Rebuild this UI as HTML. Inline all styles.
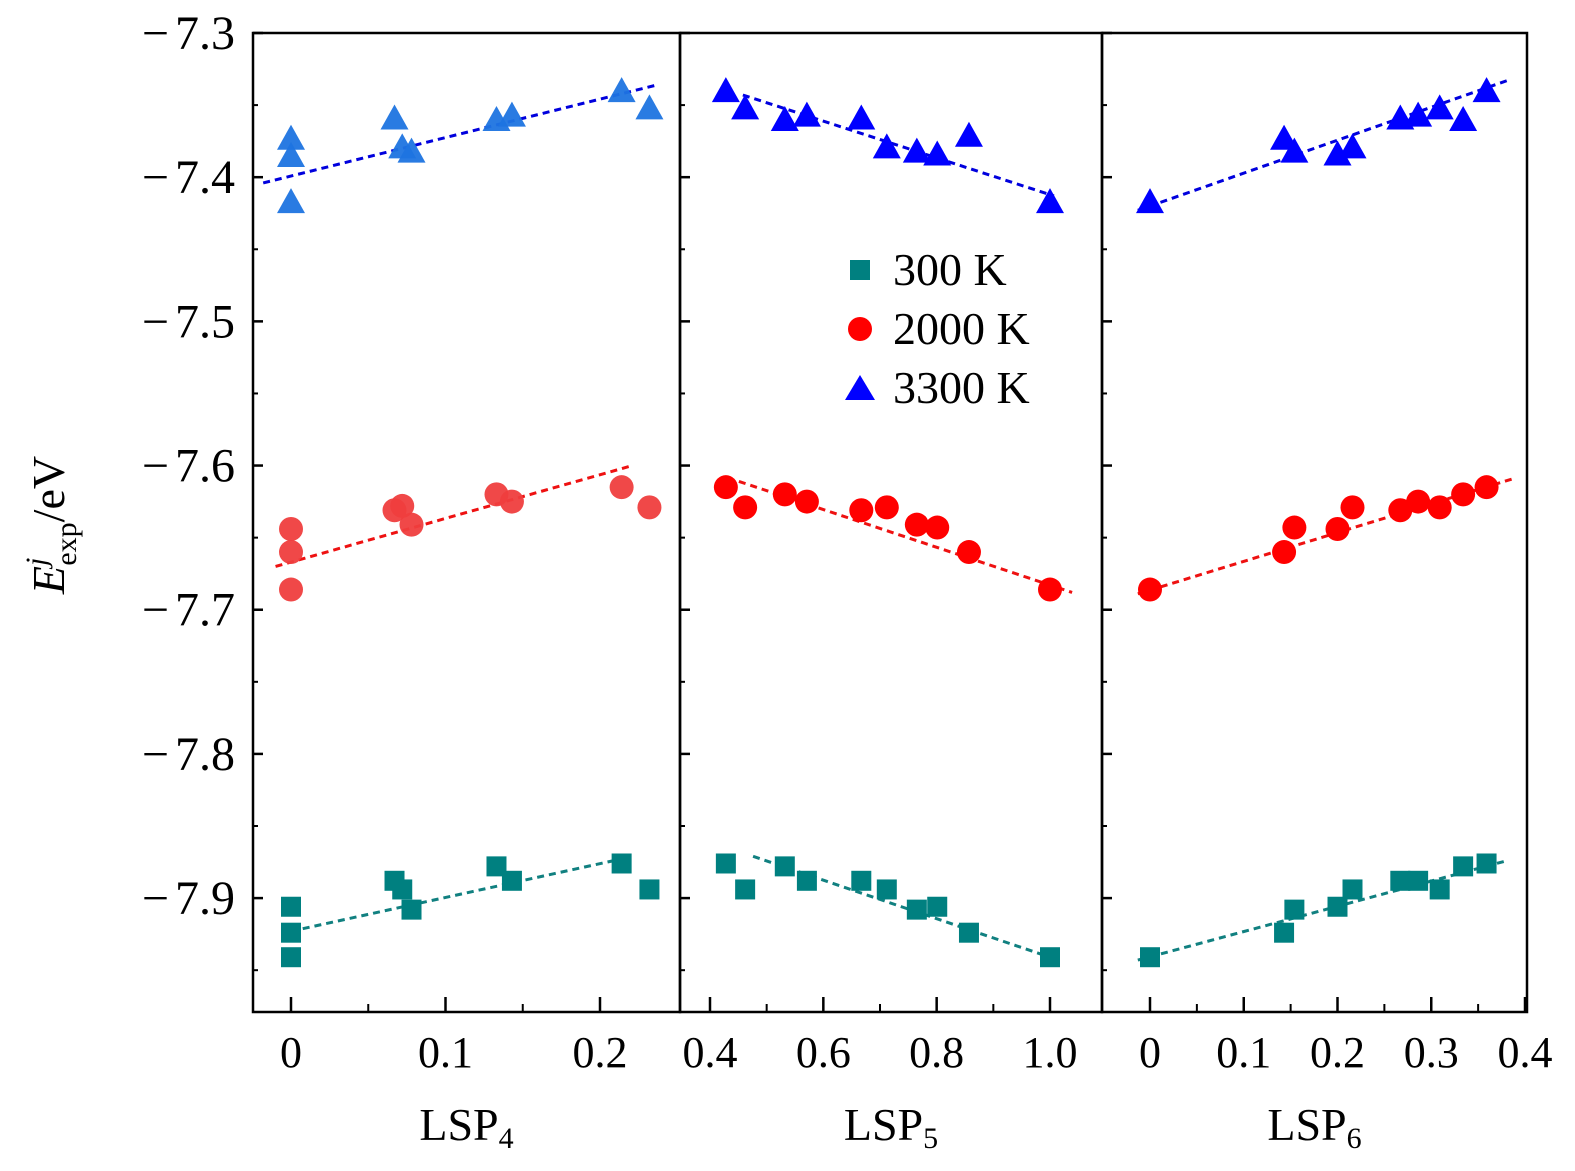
<!DOCTYPE html>
<html><head><meta charset="utf-8"><style>
html,body{margin:0;padding:0;background:#fff;overflow:hidden;width:1575px;height:1171px}
svg{display:block;font-family:"Liberation Serif",serif}
</style></head><body>
<svg id="chart" width="1575" height="1171" viewBox="0 0 1575 1171" xmlns="http://www.w3.org/2000/svg">
<g id="marks"></g>
<g id="axes"></g>
<g font-size="46">
<rect x="850" y="260" width="20" height="20" fill="#008080"/>
<text x="893" y="285">300 K</text>
<circle cx="860" cy="329" r="12" fill="#ff0000"/>
<text x="893" y="344">2000 K</text>
<polygon points="860,375 875,400 845,400" fill="#0000ff"/>
<text x="893" y="403">3300 K</text>
</g>
<text transform="translate(64,525) rotate(-90)" text-anchor="middle" font-size="46"><tspan font-style="italic">E</tspan><tspan font-style="italic" font-size="30" dy="-18">j</tspan><tspan font-size="30" dy="30" dx="-8">exp</tspan><tspan dy="-12">/eV</tspan></text>
</svg>
<script>
const yTicks=[-7.3,-7.4,-7.5,-7.6,-7.7,-7.8,-7.9];
const yTickLabels=["7.3","7.4","7.5","7.6","7.7","7.8","7.9"];
const p1X=[0,0,0,0.067,0.072,0.078,0.133,0.143,0.214,0.232];
const p1Blue=[-7.374,-7.386,-7.418,-7.360,-7.380,-7.383,-7.361,-7.358,-7.341,-7.353];
const p1Red=[-7.644,-7.660,-7.686,-7.631,-7.628,-7.641,-7.620,-7.625,-7.615,-7.629];
const p1Teal=[-7.906,-7.924,-7.941,-7.888,-7.894,-7.908,-7.878,-7.888,-7.876,-7.894];
const p2X=[0.428,0.462,0.532,0.571,0.667,0.712,0.765,0.801,0.857,1.0];
const p2Blue=[-7.341,-7.353,-7.361,-7.358,-7.360,-7.380,-7.383,-7.385,-7.372,-7.418];
const p2Red=[-7.615,-7.629,-7.620,-7.625,-7.631,-7.629,-7.641,-7.643,-7.660,-7.686];
const p2Teal=[-7.876,-7.894,-7.878,-7.888,-7.888,-7.894,-7.908,-7.906,-7.924,-7.941];
const p3X=[0,0.143,0.154,0.2,0.216,0.267,0.286,0.309,0.334,0.359];
const p3Blue=[-7.418,-7.374,-7.383,-7.385,-7.380,-7.360,-7.358,-7.353,-7.361,-7.341];
const p3Red=[-7.686,-7.660,-7.643,-7.644,-7.629,-7.631,-7.625,-7.629,-7.620,-7.615];
const p3Teal=[-7.941,-7.924,-7.908,-7.906,-7.894,-7.888,-7.888,-7.894,-7.878,-7.876];
const p1Fits=[[-0.018,-7.404,0.237,-7.336],[-0.010,-7.670,0.221,-7.600],[0,-7.923,0.209,-7.874]];
const p2Fits=[[0.458,-7.343,1.007,-7.413],[0.451,-7.611,1.039,-7.688],[0.476,-7.871,1.0,-7.941]];
const p3Fits=[[-0.013,-7.423,0.381,-7.333],[-0.013,-7.689,0.388,-7.609],[-0.013,-7.943,0.381,-7.874]];
const p1Ticks=[0,0.1,0.2];const p1TickLabels=["0","0.1","0.2"];const p1Minor=[0.05,0.15];
const p2Ticks=[0.4,0.6,0.8,1.0];const p2TickLabels=["0.4","0.6","0.8","1.0"];const p2Minor=[0.5,0.7,0.9];
const p3Ticks=[0,0.1,0.2,0.3,0.4];const p3TickLabels=["0","0.1","0.2","0.3","0.4"];const p3Minor=[0.05,0.15,0.25,0.35];

const NS="http://www.w3.org/2000/svg";
const marks=document.getElementById('marks'),axes=document.getElementById('axes');
const top_=33,bot=1012,yMax=-7.3,yMin=-7.979;
function Y(v){return top_+(yMax-v)/(yMax-yMin)*(bot-top_);}
function mk(tag,at,parent){const e=document.createElementNS(NS,tag);for(const k in at)e.setAttribute(k,at[k]);parent.appendChild(e);return e;}
const panels=[
 {x0:253,x1:680,xa:291,xb:600,va:0,vb:0.2,X:p1X,B:p1Blue,R:p1Red,T:p1Teal,F:p1Fits,tk:p1Ticks,tl:p1TickLabels,mn:p1Minor,lab:"4",cB:"#1e74e0",cR:"#ef3e3e",op:0.95},
 {x0:680,x1:1102,xa:710,xb:1050,va:0.4,vb:1.0,X:p2X,B:p2Blue,R:p2Red,T:p2Teal,F:p2Fits,tk:p2Ticks,tl:p2TickLabels,mn:p2Minor,lab:"5",cB:"#0000ff",cR:"#ff0000",op:1},
 {x0:1102,x1:1527,xa:1150,xb:1525,va:0,vb:0.4,X:p3X,B:p3Blue,R:p3Red,T:p3Teal,F:p3Fits,tk:p3Ticks,tl:p3TickLabels,mn:p3Minor,lab:"6",cB:"#0000ff",cR:"#ff0000",op:1}
];
panels.forEach((p,i)=>{
 const X=v=>p.xa+(v-p.va)/(p.vb-p.va)*(p.xb-p.xa);
 const g=mk('g',{},marks);
 
 
 const fitCols=['#0000dd','#ee1111','#118080'];
 p.F.forEach((f,j)=>{
  const l=mk('line',{x1:X(f[0]),y1:Y(f[1]),x2:X(f[2]),y2:Y(f[3]),stroke:fitCols[j],'stroke-width':3,'stroke-dasharray':'7,5'},g);
  
  
 });
 p.X.forEach((xv,k)=>{
  const cx=X(xv);
  let t=Y(p.T[k]);
  const s=mk('rect',{x:cx-10,y:t-10,width:20,height:20,fill:'#008080'},g);
  
  
  let r=Y(p.R[k]);
  const c=mk('circle',{cx:cx,cy:r,r:12,fill:p.cR,'fill-opacity':p.op},g);
  
  
  let b=Y(p.B[k]);
  const tr=mk('polygon',{points:`${cx},${b-15} ${cx+14},${b+10} ${cx-14},${b+10}`,fill:p.cB,'fill-opacity':p.op},g);
  
  
 });
 const fr=mk('rect',{x:p.x0,y:top_,width:p.x1-p.x0,height:bot-top_,fill:'none',stroke:'#000','stroke-width':2.5},axes);
 
 
 yTicks.forEach((v,k)=>{
  const t=mk('line',{x1:p.x0,x2:p.x0+10,y1:Y(v),y2:Y(v),stroke:'#000','stroke-width':2.5},axes);
  
  
  const m=mk('line',{x1:p.x0,x2:p.x0+5,y1:Y(v-0.05),y2:Y(v-0.05),stroke:'#000','stroke-width':2},axes);
  
  
 });
 p.tk.forEach((v,k)=>{
  const t=mk('line',{x1:X(v),x2:X(v),y1:bot,y2:bot-15,stroke:'#000','stroke-width':2.5},axes);
  
  
  const tx=mk('text',{x:X(v),y:1067,'text-anchor':'middle','font-size':44},axes);
  tx.textContent=p.tl[k];
  
  
 });
 p.mn.forEach(v=>{
  const t=mk('line',{x1:X(v),x2:X(v),y1:bot,y2:bot-8,stroke:'#000','stroke-width':2},axes);
  
  
 });
 const xl=mk('text',{x:(p.x0+p.x1)/2,y:1140,'text-anchor':'middle','font-size':46},axes);
 xl.innerHTML='LSP<tspan font-size="30" dy="8">'+p.lab+'</tspan>';
 
 
});
yTicks.forEach((v,k)=>{
 const t=mk('text',{x:235,y:Y(v)+16,'font-size':48,'text-anchor':'end'},axes);
 t.innerHTML='\u2212<tspan dx="6">'+yTickLabels[k]+'</tspan>';
 
 
});
</script>
</body></html>
